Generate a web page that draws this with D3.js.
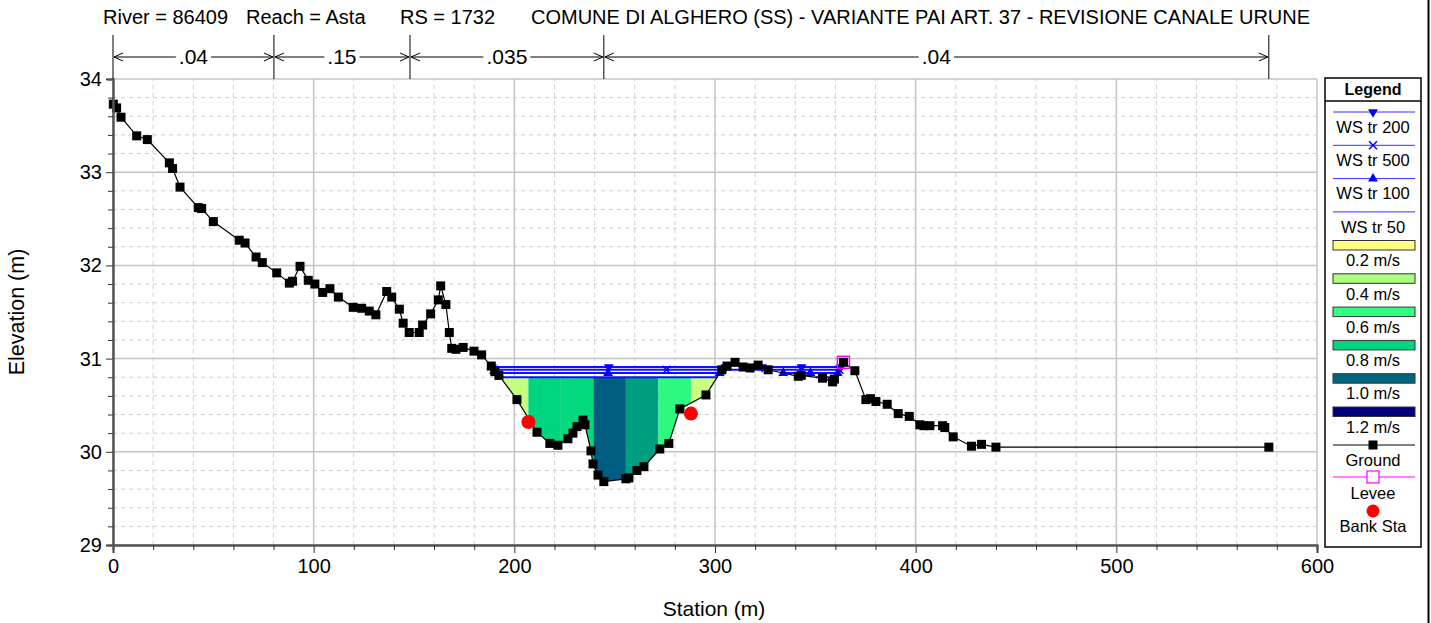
<!DOCTYPE html>
<html>
<head>
<meta charset="utf-8">
<script src="https://cdn.jsdelivr.net/npm/d3@7"></script>
<style>
  body { margin: 0; background: #fff; }
  text { font-family: "Liberation Sans", Arial, sans-serif; fill: #000; }
</style>
</head>
<body>
<svg id="chart" width="1431" height="623"></svg>
<script>
// header text pieces
const titleParts = ["River = 86409", "Reach = Asta", "RS = 1732",
  "COMUNE DI ALGHERO (SS) - VARIANTE PAI ART. 37 - REVISIONE CANALE URUNE"]

// ground profile (station m, elevation m)
const groundSta = [0.15, 1.8, 4.0, 11.8, 17.1, 28.1, 29.7, 33.4, 42.5, 44.2, 50.0, 62.9, 65.8, 71.3, 74.4,
  81.6, 87.9, 89.5, 93.2, 97.3, 100.6, 104.5, 108.1, 112.3, 119.7, 123.9, 127.7, 131.0, 136.4, 138.9,
  142.7, 144.6, 147.6, 152.6, 154.3, 158.3, 162.1, 163.3, 165.9, 167.6, 168.8, 170.9, 174.5, 179.9,
  183.7, 188.5, 190.3, 192.3, 201.3, 211.3, 217.7, 221.7, 226.7, 229.2, 231.2, 234.2, 235.2, 238.2,
  239.2, 241.7, 244.6, 255.6, 257.1, 261.1, 264.6, 272.5, 277.0, 282.5, 295.5, 303.4, 306.0, 310.0,
  314.0, 317.5, 321.5, 326.5, 341.5, 343.0, 353.6, 358.6, 359.5, 364.0, 369.7, 375.2, 377.5, 380.2,
  385.8, 391.3, 396.8, 402.1, 404.0, 407.1, 413.4, 414.5, 418.7, 427.8, 432.8, 440.0, 576.0]
const groundElev = [33.73, 33.69, 33.59, 33.39, 33.35, 33.10, 33.04, 32.84, 32.62, 32.61, 32.47, 32.27, 32.24, 32.09, 32.03,
  31.92, 31.81, 31.83, 31.99, 31.84, 31.80, 31.71, 31.75, 31.66, 31.55, 31.54, 31.51, 31.47, 31.72, 31.66,
  31.53, 31.38, 31.28, 31.28, 31.36, 31.48, 31.63, 31.78, 31.58, 31.28, 31.11, 31.10, 31.12, 31.08,
  31.04, 30.92, 30.86, 30.82, 30.56, 30.21, 30.09, 30.07, 30.14, 30.20, 30.27, 30.34, 30.29, 30.01,
  29.87, 29.75, 29.68, 29.71, 29.72, 29.80, 29.84, 30.03, 30.09, 30.46, 30.61, 30.88, 30.92, 30.96,
  30.91, 30.90, 30.93, 30.88, 30.81, 30.82, 30.79, 30.75, 30.78, 30.96, 30.87, 30.56, 30.57, 30.54,
  30.51, 30.41, 30.38, 30.29, 30.28, 30.28, 30.28, 30.26, 30.16, 30.06, 30.08, 30.05, 30.05]

// Manning's n breaks
const nSta = [0, 80.2, 148, 244.6, 576]
const nVal = [".04", ".15", ".035", ".04"]

// water surfaces
const wsNames = ["WS tr 200", "WS tr 500", "WS tr 100", "WS tr 50"]
const wsElev = [30.91, 30.88, 30.845, 30.80]

// velocity distribution (tr 50)
const velBreaks = [207, 223.2, 239.4, 255.6, 271.8, 288]
const velValues = [0.34, 0.80, 0.78, 1.02, 0.90, 0.63, 0.32]
const legendVel = [0.2, 0.4, 0.6, 0.8, 1.0, 1.2]
const legendVelColors = ["#ffff80", "#aaff80", "#33ff80", "#00d580", "#006680", "#000080"]

const bankSta = [207, 288]
const bankElev = [30.32, 30.41]
const leveeSta = 364
const leveeElev = 30.96

const xTicks = [0, 100, 200, 300, 400, 500, 600]
const yTicks = [29, 30, 31, 32, 33, 34]

const svg = d3.select("#chart")
const x = d3.scaleLinear().domain([0, 600]).range([113, 1317])
const y = d3.scaleLinear().domain([29, 34]).range([545, 79])
const velColor = d3.scaleLinear().domain(legendVel).range(legendVelColors).interpolate(d3.interpolateRgb).clamp(true)

// ground elevation at station
function gAt(s) {
  for (let i = 0; i < groundSta.length - 1; i++) {
    if (s >= groundSta[i] && s <= groundSta[i + 1]) {
      const t = (s - groundSta[i]) / (groundSta[i + 1] - groundSta[i])
      return groundElev[i] + t * (groundElev[i + 1] - groundElev[i])
    }
  }
  return groundElev[groundElev.length - 1]
}

// wet stretches for a water surface, up to the levee
function wetIntervals(ws) {
  const out = []
  let start = null
  for (let i = 0; i < groundSta.length - 1 && groundSta[i] < leveeSta; i++) {
    const s0 = groundSta[i], s1 = groundSta[i + 1], e0 = groundElev[i], e1 = groundElev[i + 1]
    if (start === null && e0 < ws) start = s0
    if ((e0 - ws) * (e1 - ws) < 0) {
      const sc = s0 + (ws - e0) / (e1 - e0) * (s1 - s0)
      if (e1 < ws) start = sc
      else { out.push([start, sc]); start = null }
    }
  }
  return out
}

// grid
const grid = svg.append("g")
d3.range(0, 601, 20).forEach(v => {
  const major = v % 100 === 0
  grid.append("line").attr("x1", x(v)).attr("x2", x(v)).attr("y1", y(29)).attr("y2", y(34))
    .attr("stroke", major ? "#c4c4c4" : "#cfcfcf").attr("stroke-width", major ? 1.5 : 1)
    .attr("stroke-dasharray", major ? null : "4,4")
})
d3.range(0, 26).map(i => 29 + i * 0.2).forEach((v, i) => {
  const major = i % 5 === 0
  grid.append("line").attr("x1", x(0)).attr("x2", x(600)).attr("y1", y(v)).attr("y2", y(v))
    .attr("stroke", major ? "#c4c4c4" : "#cfcfcf").attr("stroke-width", major ? 1.5 : 1)
    .attr("stroke-dasharray", major ? null : "4,4")
})

// velocity slices
const wsFill = wsElev[3]
const chan = wetIntervals(wsFill).find(iv => iv[0] < 244.6 && iv[1] > 244.6)
const edges = [chan[0]].concat(velBreaks, [chan[1]])
const line = d3.line().x(d => x(d[0])).y(d => y(d[1]))
for (let k = 0; k < edges.length - 1; k++) {
  const a = edges[k], b = edges[k + 1]
  const pts = [[a, wsFill], [b, wsFill], [b, Math.min(gAt(b), wsFill)]]
  for (let i = groundSta.length - 1; i >= 0; i--) {
    if (groundSta[i] > a && groundSta[i] < b) pts.push([groundSta[i], Math.min(groundElev[i], wsFill)])
  }
  pts.push([a, Math.min(gAt(a), wsFill)])
  svg.append("path").attr("d", line(pts) + "Z").attr("fill", velColor(velValues[k])).attr("stroke", "none")
}

// water surface lines and markers
const markers = [
  g => g.append("path").attr("d", d3.symbol(d3.symbolTriangle, 42)()).attr("transform", "rotate(180)").attr("fill", "#0000ff"),
  g => g.append("path").attr("d", "M-4,-4L4,4M-4,4L4,-4").attr("stroke", "#0000ff").attr("stroke-width", 1.5).attr("fill", "none"),
  g => g.append("path").attr("d", d3.symbol(d3.symbolTriangle, 42)()).attr("fill", "#0000ff"),
  g => null
]
wsElev.forEach((ws, j) => {
  wetIntervals(ws).forEach(iv => {
    svg.append("line").attr("x1", x(iv[0])).attr("x2", x(iv[1])).attr("y1", y(ws)).attr("y2", y(ws))
      .attr("stroke", "#1010ff").attr("stroke-width", 2)
  })
})
wsElev.forEach((ws, j) => {
  wetIntervals(ws).forEach(iv => {
    [iv[0], (iv[0] + iv[1]) / 2, iv[1]].forEach(s => {
      const g = svg.append("g").attr("transform", `translate(${x(s)},${y(ws)})`)
      markers[j](g)
    })
  })
})

// ground
svg.append("path").datum(groundSta.map((s, i) => [s, groundElev[i]]))
  .attr("d", line).attr("fill", "none").attr("stroke", "#000").attr("stroke-width", 1.2)
svg.append("g").selectAll("rect").data(groundSta).join("rect")
  .attr("x", (d) => x(d) - 4.5).attr("y", (d, i) => y(groundElev[i]) - 4.5)
  .attr("width", 9).attr("height", 9).attr("fill", "#000")

// levee
svg.append("rect").attr("x", x(leveeSta) - 6).attr("y", y(leveeElev) - 6).attr("width", 12).attr("height", 12)
  .attr("fill", "none").attr("stroke", "#ff00ff").attr("stroke-width", 1.5)

// bank stations
svg.append("g").selectAll("circle").data(bankSta).join("circle")
  .attr("cx", d => x(d)).attr("cy", (d, i) => y(bankElev[i])).attr("r", 7).attr("fill", "#ff0000")

// axes
const axL = svg.append("g").attr("transform", `translate(${x(0)},0)`)
  .call(d3.axisLeft(y).tickValues(yTicks).tickSize(7).tickPadding(4).tickFormat(d3.format("d")))
axL.append("g").call(d3.axisLeft(y).tickValues(d3.range(1, 25).filter(i => i % 5).map(i => 29 + i * 0.2)).tickSize(5).tickFormat(""))
const axB = svg.append("g").attr("transform", `translate(0,${y(29)})`)
  .call(d3.axisBottom(x).tickValues(xTicks).tickSize(8).tickPadding(6))
axB.append("g").call(d3.axisBottom(x).tickValues(d3.range(20, 600, 20).filter(v => v % 100)).tickSize(5).tickFormat(""))
svg.selectAll(".domain").attr("stroke", "#555").attr("stroke-width", 2)
svg.selectAll(".tick line").attr("stroke", "#333")
svg.selectAll(".tick text").style("font-size", "20px").style("font-family", '"Liberation Sans", Arial, sans-serif').attr("fill", "#000")

svg.append("text").attr("x", 714).attr("y", 616).attr("text-anchor", "middle").style("font-size", "21px").text("Station (m)")
svg.append("text").attr("transform", "translate(24,312) rotate(-90)").attr("text-anchor", "middle").style("font-size", "21.5px").text("Elevation (m)")

// title
const titleX = [103, 246, 400, 531]
titleParts.forEach((t, i) => {
  svg.append("text").attr("x", titleX[i]).attr("y", 24).style("font-size", "20px").text(t)
})

// Manning's n
const nY = 57
nSta.forEach(s => {
  svg.append("line").attr("x1", x(s)).attr("x2", x(s)).attr("y1", 35).attr("y2", y(34)).attr("stroke", "#000")
})
nVal.forEach((v, i) => {
  const a = x(nSta[i]), b = x(nSta[i + 1]), m = (a + b) / 2
  const t = svg.append("text").attr("x", m).attr("y", nY).attr("dy", "0.35em").attr("text-anchor", "middle")
    .style("font-size", "21px").text(v)
  const w = t.node().getComputedTextLength()
  svg.append("line").attr("x1", a + 1).attr("x2", m - w / 2 - 3).attr("y1", nY).attr("y2", nY).attr("stroke", "#000")
  svg.append("line").attr("x1", m + w / 2 + 3).attr("x2", b - 1).attr("y1", nY).attr("y2", nY).attr("stroke", "#000")
  svg.append("path").attr("d", `M${a + 10},${nY - 4}L${a + 1},${nY}L${a + 10},${nY + 4}`).attr("fill", "none").attr("stroke", "#000")
  svg.append("path").attr("d", `M${b - 10},${nY - 4}L${b - 1},${nY}L${b - 10},${nY + 4}`).attr("fill", "none").attr("stroke", "#000")
})

// legend
const lg = svg.append("g")
const lx0 = 1325, lx1 = 1421, lcx = (lx0 + lx1) / 2
lg.append("rect").attr("x", lx0).attr("y", 78).attr("width", lx1 - lx0).attr("height", 469)
  .attr("fill", "#fff").attr("stroke", "#000").attr("stroke-width", 1.5)
lg.append("line").attr("x1", lx0).attr("x2", lx1).attr("y1", 101).attr("y2", 101).attr("stroke", "#000").attr("stroke-width", 1.5)
lg.append("text").attr("x", lcx).attr("y", 89).attr("dy", "0.35em").attr("text-anchor", "middle")
  .style("font-size", "16px").style("font-weight", "bold").text("Legend")
const labStyle = t => t.attr("text-anchor", "middle").attr("dy", "0.35em").style("font-size", "16.5px")
wsNames.forEach((n, j) => {
  const ly = 112 + j * 33.3
  lg.append("line").attr("x1", 1333).attr("x2", 1415).attr("y1", ly).attr("y2", ly).attr("stroke", "#3030ff").attr("stroke-width", 1)
  markers[j](lg.append("g").attr("transform", `translate(${lcx},${ly})`))
  lg.append("text").attr("x", lcx).attr("y", ly + 15).call(labStyle).text(n)
})
legendVel.forEach((v, j) => {
  const ry = 240.5 + j * 33.3
  lg.append("rect").attr("x", 1333).attr("y", ry).attr("width", 82).attr("height", 9.5)
    .attr("fill", velColor(v)).attr("stroke", "#333").attr("stroke-width", 1)
  lg.append("text").attr("x", lcx).attr("y", ry + 20).call(labStyle).text(d3.format(".1f")(v) + " m/s")
})
lg.append("line").attr("x1", 1333).attr("x2", 1415).attr("y1", 445).attr("y2", 445).attr("stroke", "#000")
lg.append("rect").attr("x", lcx - 4.5).attr("y", 440.5).attr("width", 9).attr("height", 9).attr("fill", "#000")
lg.append("text").attr("x", lcx).attr("y", 460).call(labStyle).text("Ground")
lg.append("line").attr("x1", 1333).attr("x2", 1415).attr("y1", 477).attr("y2", 477).attr("stroke", "#ff00ff")
lg.append("rect").attr("x", lcx - 6).attr("y", 471).attr("width", 12).attr("height", 12)
  .attr("fill", "#fff").attr("stroke", "#ff00ff").attr("stroke-width", 1.2)
lg.append("text").attr("x", lcx).attr("y", 493).call(labStyle).text("Levee")
lg.append("circle").attr("cx", lcx).attr("cy", 511).attr("r", 6.5).attr("fill", "#ff0000")
lg.append("text").attr("x", lcx).attr("y", 526).call(labStyle).text("Bank Sta")

// window edge
svg.append("line").attr("x1", 1428.5).attr("x2", 1428.5).attr("y1", 0).attr("y2", 623).attr("stroke", "#000").attr("stroke-width", 2)
</script>
</body>
</html>
